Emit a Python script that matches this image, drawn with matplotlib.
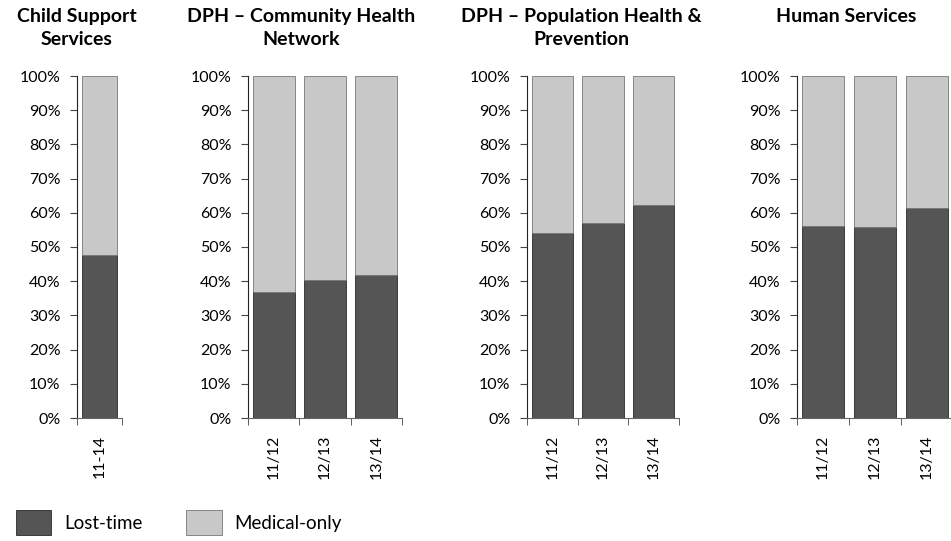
import matplotlib
matplotlib.use("Agg")
import matplotlib.pyplot as plt
from matplotlib.patches import Patch
from matplotlib.ticker import PercentFormatter, FixedLocator

plt.rcParams["font.family"] = ["Lato", "DejaVu Sans"]

# --- Data ---
titles = ["Child Support\nServices",
          "DPH \u2013 Community Health\nNetwork",
          "DPH \u2013 Population Health &\nPrevention",
          "Human Services"]
periods = [["11-14"],
           ["11/12", "12/13", "13/14"],
           ["11/12", "12/13", "13/14"],
           ["11/12", "12/13", "13/14"]]
lost_time = [[47.7],
             [36.8, 40.4, 41.7],
             [54.0, 57.1, 62.3],
             [56.1, 55.8, 61.3]]
medical_only = [[100 - v for v in grp] for grp in lost_time]

dark = "#555555"
light = "#c8c8c8"

fig = plt.figure(figsize=(9.51, 5.41), dpi=100)

# panel placement in pixels: left edge, width
W, H = 951, 541
panels = [(77, 45), (248, 154), (527, 152), (797, 156)]
title_x = [77, 301, 581, 846]
ax_bottom = 1 - 418 / H
ax_height = (418 - 76) / H

for i, (left, width) in enumerate(panels):
    ax = fig.add_axes([left / W, ax_bottom, width / W, ax_height])
    n = len(periods[i])
    x = list(range(n))
    bw = 0.78 if n == 1 else 0.82
    ax.bar(x, lost_time[i], width=bw, color=dark, edgecolor="#2a2a2a", linewidth=0.6)
    ax.bar(x, medical_only[i], width=bw, bottom=lost_time[i], color=light,
           edgecolor="#777777", linewidth=0.6)
    ax.set_xlim(-0.5, n - 0.5)
    ax.set_ylim(0, 100)
    ax.set_yticks(range(0, 101, 10))
    ax.yaxis.set_major_formatter(PercentFormatter(decimals=0))
    ax.set_xticks(x)
    ax.set_xticklabels(periods[i], rotation=90)
    ax.xaxis.set_minor_locator(FixedLocator([k - 0.5 for k in range(n + 1)]))
    ax.tick_params(axis="x", which="major", length=0, pad=12, labelsize=11.5)
    ax.tick_params(axis="x", which="minor", length=5, direction="out", color="#444444")
    ax.tick_params(axis="y", length=5, direction="out", pad=7, labelsize=11.5, color="#444444")
    for s in ["top", "right"]:
        ax.spines[s].set_visible(False)
    ax.spines["left"].set_color("#222222")
    ax.spines["bottom"].set_color("#666666")
    fig.text(title_x[i] / W, 1 - 8 / H, titles[i], ha="center", va="top",
             fontsize=14, fontweight="bold", linespacing=1.45)

handles = [Patch(facecolor=dark, edgecolor="#2a2a2a", linewidth=0.6),
           Patch(facecolor=light, edgecolor="#777777", linewidth=0.6)]
fig.legend(handles, ["Lost-time", "Medical-only"], loc="lower left",
           bbox_to_anchor=(12 / W, 2 / H), borderaxespad=0, borderpad=0.2, ncol=2,
           frameon=False, fontsize=13.5, handlelength=1.9, handleheight=1.7,
           handletextpad=0.7, columnspacing=2.3)

fig.savefig("out.png", dpi=100)
